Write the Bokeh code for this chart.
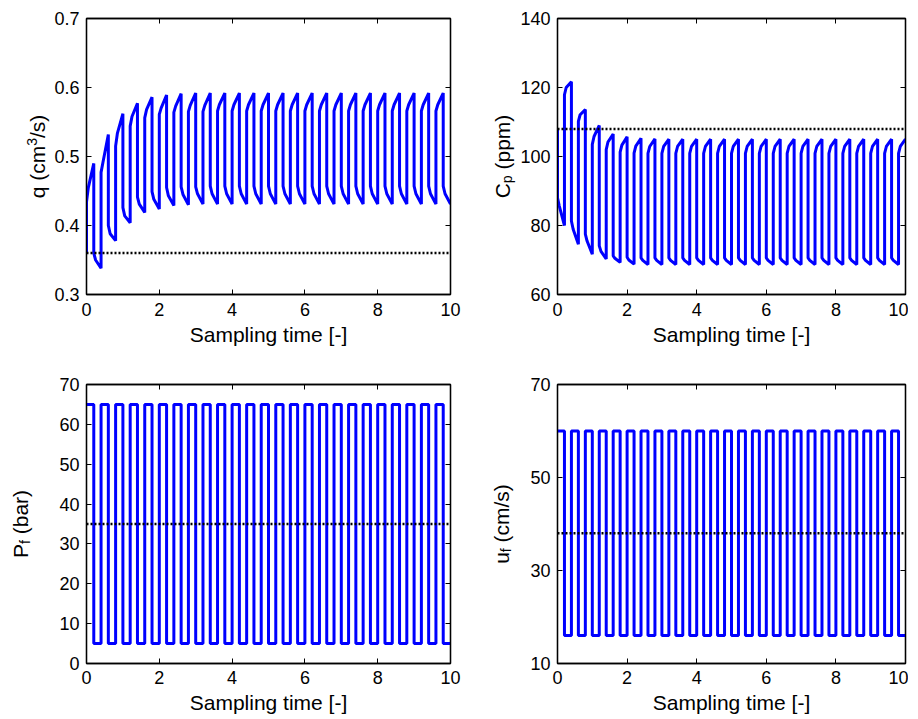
from math import pi
from bokeh.plotting import figure
from bokeh.models import LinearAxis, FixedTicker, Range1d, Span
from bokeh.core.properties import value
from bokeh.layouts import row, column
from bokeh.embed import file_html
from bokeh.resources import INLINE

# ---------------- data ----------------
switch_times = [0.0, 0.2, 0.4, 0.6, 0.8, 1.0, 1.2, 1.4, 1.6, 1.8, 2.0, 2.2, 2.4, 2.6, 2.8,
                3.0, 3.2, 3.4, 3.6, 3.8, 4.0, 4.2, 4.4, 4.6, 4.8, 5.0, 5.2, 5.4, 5.6, 5.8,
                6.0, 6.2, 6.4, 6.6, 6.8, 7.0, 7.2, 7.4, 7.6, 7.8, 8.0, 8.2, 8.4, 8.6, 8.8,
                9.0, 9.2, 9.4, 9.6, 9.8, 10.0]
kink_dt = 0.05

x_ticks = [0, 2, 4, 6, 8, 10]

# q (cm3/s): per cycle, high-pressure half then low-pressure half
q_init = 0.36
q_ref = 0.36
q_hi_start = [0.434, 0.477, 0.515, 0.544, 0.556, 0.561, 0.564, 0.565, 0.565, 0.566, 0.566, 0.566, 0.566,
              0.566, 0.566, 0.566, 0.566, 0.566, 0.566, 0.566, 0.566, 0.566, 0.566, 0.566, 0.566]
q_hi_mid = [0.455, 0.491, 0.534, 0.558, 0.568, 0.570, 0.573, 0.574, 0.574, 0.575, 0.575, 0.575, 0.575,
            0.575, 0.575, 0.575, 0.575, 0.575, 0.575, 0.575, 0.575, 0.575, 0.575, 0.575, 0.575]
q_hi_end = [0.490, 0.532, 0.562, 0.577, 0.586, 0.589, 0.591, 0.592, 0.592, 0.592, 0.592, 0.592, 0.592,
            0.592, 0.592, 0.592, 0.592, 0.592, 0.592, 0.592, 0.592, 0.592, 0.592, 0.592, 0.592]
q_lo_start = [0.360, 0.400, 0.426, 0.441, 0.449, 0.455, 0.456, 0.456, 0.457, 0.457, 0.457, 0.457, 0.457,
              0.457, 0.457, 0.457, 0.457, 0.457, 0.457, 0.457, 0.457, 0.457, 0.457, 0.457, 0.457]
q_lo_mid = [0.350, 0.388, 0.414, 0.431, 0.438, 0.443, 0.445, 0.446, 0.446, 0.446, 0.446, 0.446, 0.446,
            0.446, 0.446, 0.446, 0.446, 0.446, 0.446, 0.446, 0.446, 0.446, 0.446, 0.446, 0.446]
q_lo_end = [0.338, 0.378, 0.404, 0.419, 0.424, 0.429, 0.430, 0.431, 0.431, 0.431, 0.431, 0.431, 0.431,
            0.431, 0.431, 0.431, 0.431, 0.431, 0.431, 0.431, 0.431, 0.431, 0.431, 0.431, 0.431]

# Cp (ppm)
cp_init = 108.0
cp_ref = 108.0
cp_hi_start = [88.0, 81.3, 77.5, 74.1, 71.2, 70.8, 70.6, 70.6, 70.6, 70.6, 70.6, 70.6, 70.6,
               70.6, 70.6, 70.6, 70.6, 70.6, 70.6, 70.6, 70.6, 70.6, 70.6, 70.6, 70.6]
cp_hi_mid = [85.7, 78.9, 75.5, 72.5, 70.5, 70.0, 69.9, 69.9, 69.9, 69.9, 69.9, 69.9, 69.9,
             69.9, 69.9, 69.9, 69.9, 69.9, 69.9, 69.9, 69.9, 69.9, 69.9, 69.9, 69.9]
cp_hi_end = [80.0, 74.6, 71.7, 70.3, 69.3, 68.8, 68.7, 68.7, 68.7, 68.7, 68.7, 68.7, 68.7,
             68.7, 68.7, 68.7, 68.7, 68.7, 68.7, 68.7, 68.7, 68.7, 68.7, 68.7, 68.7]
cp_lo_start = [117.9, 110.2, 103.5, 102.0, 101.3, 101.0, 100.9, 100.9, 100.9, 100.9, 100.9, 100.9, 100.9,
               100.9, 100.9, 100.9, 100.9, 100.9, 100.9, 100.9, 100.9, 100.9, 100.9, 100.9, 100.9]
cp_lo_mid = [120.0, 112.1, 105.8, 104.2, 103.3, 103.0, 102.9, 102.9, 102.9, 102.9, 102.9, 102.9, 102.9,
             102.9, 102.9, 102.9, 102.9, 102.9, 102.9, 102.9, 102.9, 102.9, 102.9, 102.9, 102.9]
cp_lo_end = [121.7, 113.6, 109.0, 106.5, 105.7, 105.3, 105.1, 105.0, 105.0, 105.0, 105.0, 105.0, 105.0,
             105.0, 105.0, 105.0, 105.0, 105.0, 105.0, 105.0, 105.0, 105.0, 105.0, 105.0, 105.0]

# Pf (bar), one level per half period
pf_ref = 35.0
pf_levels = [65, 5, 65, 5, 65, 5, 65, 5, 65, 5, 65, 5, 65, 5, 65, 5, 65, 5, 65, 5, 65, 5, 65, 5, 65,
             5, 65, 5, 65, 5, 65, 5, 65, 5, 65, 5, 65, 5, 65, 5, 65, 5, 65, 5, 65, 5, 65, 5, 65, 5]
# uf (cm/s)
uf_ref = 38.0
uf_levels = [60, 16, 60, 16, 60, 16, 60, 16, 60, 16, 60, 16, 60, 16, 60, 16, 60, 16, 60, 16, 60, 16, 60, 16, 60,
             16, 60, 16, 60, 16, 60, 16, 60, 16, 60, 16, 60, 16, 60, 16, 60, 16, 60, 16, 60, 16, 60, 16, 60, 16]

q_ticks = [0.3, 0.4, 0.5, 0.6, 0.7]
cp_ticks = [60, 80, 100, 120, 140]
pf_ticks = [0, 10, 20, 30, 40, 50, 60, 70]
uf_ticks = [10, 30, 50, 70]

# ---------------- helpers ----------------
FONT = "Liberation Sans"
BLUE = "#0000FF"
TICK_FS = 18
LABEL_FS = 21
SMALL_FS = 14

ARIAL = {' ': 278, '(': 333, ')': 333, '/': 278, '3': 556, 'q': 556, 'c': 500, 'm': 833, 's': 500,
         'C': 722, 'p': 556, 'P': 667, 'f': 278, 'b': 556, 'a': 556, 'r': 333, 'u': 556}


def tw(s, size):
    return sum(ARIAL.get(c, 556) for c in s) / 1000.0 * size


def saw_path(init, hs, hm, he, ls, lm, le):
    xs, ys = [0.0], [init]
    for k in range(len(hs)):
        for j, (a, b, c) in enumerate([(hs[k], hm[k], he[k]), (ls[k], lm[k], le[k])]):
            t0 = switch_times[2 * k + j]
            t1 = switch_times[2 * k + j + 1]
            xs += [t0, t0 + kink_dt, t1]
            ys += [a, b, c]
    return xs, ys


def step_path(levels):
    xs, ys = [], []
    for i, lv in enumerate(levels):
        xs += [switch_times[i], switch_times[i + 1]]
        ys += [lv, lv]
    return xs, ys


def style_axis(ax, ticks, show):
    ax.ticker = FixedTicker(ticks=ticks)
    ax.axis_line_color = "black"
    ax.axis_line_width = 1.3
    ax.major_tick_in = 5
    ax.major_tick_out = 0
    ax.minor_tick_in = 0
    ax.minor_tick_out = 0
    ax.major_tick_line_color = "black"
    ax.major_tick_line_width = 1
    ax.major_label_text_font = FONT
    ax.major_label_text_color = "black"
    if show:
        ax.major_label_text_font_size = f"{TICK_FS}px"
        ax.major_label_standoff = 7
    else:
        ax.major_label_text_font_size = "0px"
        ax.major_label_text_alpha = 0
        ax.major_label_standoff = 0


def make_fig(w, h, bl, br, bt, bb, ylo, yhi, yticks, x_std, lab_std):
    p = figure(width=w, height=h, x_range=Range1d(0, 10), y_range=Range1d(ylo, yhi),
               output_backend="svg", toolbar_location=None,
               min_border_left=bl, min_border_right=br, min_border_top=bt, min_border_bottom=bb,
               background_fill_color="white", border_fill_color="white")
    p.grid.visible = False
    p.outline_line_color = "black"
    p.outline_line_width = 1.3
    style_axis(p.xaxis[0], x_ticks, True)
    style_axis(p.yaxis[0], yticks, True)
    p.xaxis.major_label_standoff = x_std
    p.xaxis.axis_label = "Sampling time [-]"
    p.xaxis.axis_label_text_font = FONT
    p.xaxis.axis_label_text_font_size = f"{LABEL_FS}px"
    p.xaxis.axis_label_text_font_style = "normal"
    p.xaxis.axis_label_text_color = "black"
    p.xaxis.axis_label_standoff = lab_std
    ra = LinearAxis()
    p.add_layout(ra, "right")
    style_axis(ra, yticks, False)
    ta = LinearAxis()
    p.add_layout(ta, "above")
    style_axis(ta, x_ticks, False)
    return p


def label_fig(w, h, bt, bb, yrange, ymid, center_x, pieces):
    # narrow panel to the left of a plot holding its rotated y-axis title
    lf = figure(width=w, height=h, frame_width=w, x_range=Range1d(0, w), y_range=yrange,
                x_axis_type=None, y_axis_type=None, output_backend="svg", toolbar_location=None,
                min_border_left=0, min_border_right=0, min_border_top=bt, min_border_bottom=bb,
                background_fill_color="white", border_fill_color="white")
    lf.outline_line_color = None
    # pieces: (text, size, perpendicular shift px (+ = raised), gap before px)
    total = sum(g + tw(t, s) for t, s, sh, g in pieces)
    cum = 0.0
    for t, s, sh, g in pieces:
        cum += g
        lf.text(x=[center_x], y=[ymid], text=[t], angle=pi / 2, x_offset=-sh, y_offset=total / 2.0 - cum,
                text_font=value(FONT), text_font_size=value(f"{s}px"), text_align="left",
                text_baseline="middle", text_color="black")
        cum += tw(t, s)
    return lf


def add_ref(p, level):
    p.add_layout(Span(location=level, dimension="width", line_color="black",
                      line_width=2.5, line_dash="2 2"))


SP = tw(" ", LABEL_FS)

# ---------------- figures ----------------
f1 = make_fig(419, 364, 34, 20, 18, 70, 0.3, 0.7, q_ticks, 8, 4)
xs, ys = saw_path(q_init, q_hi_start, q_hi_mid, q_hi_end, q_lo_start, q_lo_mid, q_lo_end)
f1.line(xs, ys, line_color=BLUE, line_width=3)
add_ref(f1, q_ref)
l1 = label_fig(51, 364, 18, 70, f1.y_range, 0.5, 37,
               [("q (cm", LABEL_FS, 0, 0), ("3", SMALL_FS, 6, 0), ("/s)", LABEL_FS, 0, 0)])

f2 = make_fig(391, 364, 39, 3, 18, 70, 60, 140, cp_ticks, 8, 4)
xs, ys = saw_path(cp_init, cp_hi_start, cp_hi_mid, cp_hi_end, cp_lo_start, cp_lo_mid, cp_lo_end)
f2.line(xs, ys, line_color=BLUE, line_width=3)
add_ref(f2, cp_ref)
l2 = label_fig(47, 364, 18, 70, f2.y_range, 100, 32,
               [("C", LABEL_FS, 0, 0), ("p", SMALL_FS, -4, 0), ("(ppm)", LABEL_FS, 0, SP)])

f3 = make_fig(414, 355, 29, 20, 20, 56, 0, 70, pf_ticks, 7, 4)
xs, ys = step_path(pf_levels)
f3.line(xs, ys, line_color=BLUE, line_width=3)
add_ref(f3, pf_ref)
l3 = label_fig(56, 355, 20, 56, f3.y_range, 35, 20,
               [("P", LABEL_FS, 0, 0), ("f", SMALL_FS, -4, 0), ("(bar)", LABEL_FS, 0, SP)])

f4 = make_fig(381, 355, 29, 3, 20, 56, 10, 70, uf_ticks, 7, 4)
xs, ys = step_path(uf_levels)
f4.line(xs, ys, line_color=BLUE, line_width=3)
add_ref(f4, uf_ref)
l4 = label_fig(57, 355, 20, 56, f4.y_range, 40, 31,
               [("u", LABEL_FS, 0, 0), ("f", SMALL_FS, -4, 0), ("(cm/s)", LABEL_FS, 0, SP)])

layout = column(row(l1, f1, l2, f2), row(l3, f3, l4, f4))

with open("out.html", "w") as fh:
    fh.write(file_html(layout, INLINE, title="chart"))
